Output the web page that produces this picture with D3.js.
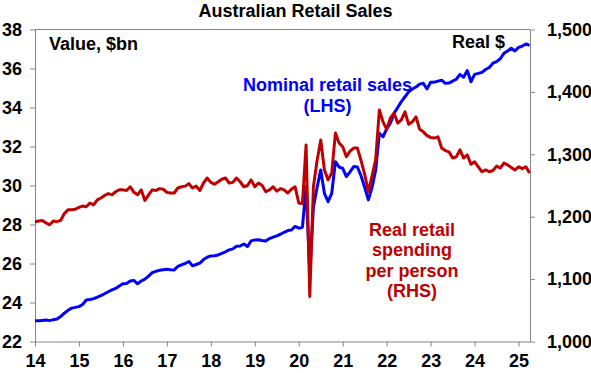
<!DOCTYPE html>
<html>
<head>
<meta charset="utf-8">
<script src="https://cdn.jsdelivr.net/npm/d3@7"></script>
<style>
  body { margin: 0; background: #fff; }
  text { font-family: "Liberation Sans", Arial, sans-serif; }
</style>
</head>
<body>
<div id="chart"></div>
<script>
// monthly, Jan 2014 to Apr 2025
const startYear = 2014;

// nominal retail sales, $bn (LHS)
const nominal = [
  23.07, 23.06, 23.08, 23.10, 23.07, 23.12, 23.15, 23.28, 23.45, 23.60, 23.71, 23.75,
  23.79, 23.90, 24.13, 24.15, 24.20, 24.27, 24.35, 24.45, 24.55, 24.65, 24.72, 24.85,
  24.96, 24.98, 25.10, 25.13, 24.96, 25.10, 25.20, 25.35, 25.53, 25.60, 25.65, 25.68,
  25.71, 25.68, 25.67, 25.85, 25.93, 26.00, 26.10, 25.88, 25.95, 26.02, 26.20, 26.32,
  26.39, 26.40, 26.44, 26.52, 26.60, 26.70, 26.75, 26.88, 26.90, 27.00, 26.87, 27.16,
  27.21, 27.22, 27.18, 27.15, 27.28, 27.35, 27.42, 27.50, 27.60, 27.69, 27.72, 27.90,
  27.81, 27.86, 29.94, 25.50, 28.90, 29.90, 30.80, 29.60, 29.17, 29.60, 31.22, 30.95,
  30.88, 30.46, 30.70, 30.97, 30.95, 30.50, 29.90, 29.26, 29.90, 30.80, 32.68, 32.50,
  32.90, 33.20, 33.70, 34.00, 34.30, 34.55, 34.80, 34.95, 35.05, 35.20, 35.24, 34.95,
  35.30, 35.30, 35.35, 35.40, 35.24, 35.25, 35.35, 35.45, 35.70, 35.55, 35.90, 35.32,
  35.70, 35.75, 35.80, 35.95, 36.05, 36.27, 36.35, 36.50, 36.78, 36.90, 37.04, 36.90,
  37.08, 37.15, 37.26, 37.18
];

// real retail spending per person, $ (RHS)
const realPerPerson = [
  1192, 1193, 1194, 1190, 1187, 1193, 1192, 1194, 1205, 1211, 1211, 1212,
  1215, 1217, 1216, 1222, 1219, 1227, 1230, 1234, 1237, 1235, 1240, 1243,
  1243, 1242, 1248, 1239, 1235, 1243, 1226, 1235, 1243, 1242, 1245, 1244,
  1239, 1238, 1238, 1246, 1248, 1249, 1253, 1246, 1249, 1242, 1254, 1262,
  1255, 1252, 1256, 1260, 1262, 1254, 1255, 1262, 1256, 1248, 1250, 1259,
  1248, 1254, 1250, 1240, 1243, 1248, 1241, 1245, 1243, 1238, 1244, 1248,
  1222, 1221, 1315, 1072, 1248, 1290, 1323, 1275, 1259, 1270, 1334, 1318,
  1312, 1296, 1305, 1310, 1310, 1290, 1268, 1240, 1265, 1292, 1371, 1352,
  1340, 1358, 1366, 1350, 1355, 1368, 1348, 1352, 1360, 1340, 1336, 1330,
  1327, 1326, 1328, 1310, 1306, 1304, 1294, 1296, 1307, 1294, 1299, 1284,
  1288, 1280, 1272, 1275, 1272, 1274, 1281, 1278, 1286, 1283, 1279, 1275,
  1280, 1277, 1280, 1270
];

const xTicks = [2014, 2015, 2016, 2017, 2018, 2019, 2020, 2021, 2022, 2023, 2024, 2025];
const leftTicks = [22, 24, 26, 28, 30, 32, 34, 36, 38];
const rightTicks = [1000, 1100, 1200, 1300, 1400, 1500];

const blue = "#0000ff";
const red = "#c00000";
const axisGrey = "#868686";

const margin = {top: 29.5, right: 61, bottom: 31.5, left: 35},
  width = 591 - margin.left - margin.right,
  height = 373 - margin.top - margin.bottom;

const svg = d3.select("#chart")
  .append("svg")
  .attr("width", 591)
  .attr("height", 373);

const g = svg.append("g")
  .attr("transform", `translate(${margin.left}, ${margin.top})`);

let x = d3.scaleLinear()
  .domain([2014, 2025.26])
  .range([0, width]);

let yL = d3.scaleLinear()
  .domain([22, 38])
  .range([height, 0]);

let yR = d3.scaleLinear()
  .domain([1000, 1500])
  .range([height, 0]);

const t = i => startYear + i / 12;

// top border of the plot area
g.append("line")
  .attr("x1", 0).attr("x2", width)
  .attr("y1", 0).attr("y2", 0)
  .attr("stroke", axisGrey);

function styleAxis(sel) {
  sel.select(".domain").attr("stroke", axisGrey);
  sel.selectAll(".tick line").attr("stroke", axisGrey);
  sel.selectAll(".tick text")
    .attr("fill", "#000")
    .style("font-size", "18px")
    .style("font-weight", "bold");
}

g.append("g")
  .attr("transform", `translate(0, ${height})`)
  .call(d3.axisBottom(x).tickValues(xTicks).tickSize(5).tickPadding(8).tickSizeOuter(0)
    .tickFormat(d => String(d).slice(2)))
  .call(styleAxis);

g.append("g")
  .call(d3.axisLeft(yL).tickValues(leftTicks).tickSize(5).tickPadding(8).tickSizeOuter(0))
  .call(styleAxis);

g.append("g")
  .attr("transform", `translate(${width}, 0)`)
  .call(d3.axisRight(yR).tickValues(rightTicks).tickSize(5).tickPadding(12).tickSizeOuter(0)
    .tickFormat(d3.format(",")))
  .call(styleAxis);

// lines: nominal first so the real series sits on top
g.append("path")
  .datum(nominal)
  .attr("fill", "none")
  .attr("stroke", blue)
  .attr("stroke-width", 3)
  .attr("stroke-linejoin", "round")
  .attr("d", d3.line().x((d, i) => x(t(i))).y(d => yL(d)));

g.append("path")
  .datum(realPerPerson)
  .attr("fill", "none")
  .attr("stroke", red)
  .attr("stroke-width", 3)
  .attr("stroke-linejoin", "round")
  .attr("d", d3.line().x((d, i) => x(t(i))).y(d => yR(d)));

// titles and labels
svg.append("text")
  .attr("x", 295.5).attr("y", 17)
  .attr("text-anchor", "middle")
  .style("font-size", "18px").style("font-weight", "bold")
  .text("Australian Retail Sales");

svg.append("text")
  .attr("x", 49).attr("y", 50)
  .style("font-size", "18px").style("font-weight", "bold")
  .text("Value, $bn");

svg.append("text")
  .attr("x", 505).attr("y", 48)
  .attr("text-anchor", "end")
  .style("font-size", "18px").style("font-weight", "bold")
  .text("Real $");

const blueLabel = ["Nominal retail sales", "(LHS)"];
svg.selectAll(".lbl-blue")
  .data(blueLabel)
  .enter()
  .append("text")
  .attr("class", "lbl-blue")
  .attr("x", 327.5)
  .attr("y", (d, i) => 91 + i * 21)
  .attr("text-anchor", "middle")
  .attr("fill", blue)
  .style("font-size", "18px").style("font-weight", "bold")
  .text(d => d);

const redLabel = ["Real retail", "spending", "per person", "(RHS)"];
svg.selectAll(".lbl-red")
  .data(redLabel)
  .enter()
  .append("text")
  .attr("class", "lbl-red")
  .attr("x", 412)
  .attr("y", (d, i) => 236 + i * 20.3)
  .attr("text-anchor", "middle")
  .attr("fill", red)
  .style("font-size", "18px").style("font-weight", "bold")
  .text(d => d);
</script>
</body>
</html>
